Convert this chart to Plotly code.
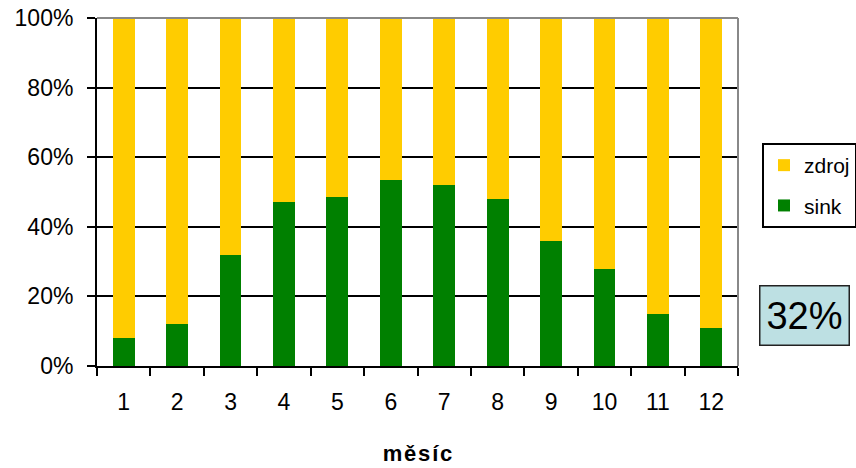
import plotly.graph_objects as go

months = [str(i) for i in range(1, 13)]
sink = [8, 12, 32, 47, 48.5, 53.5, 52, 48, 36, 28, 15, 11]
zdroj = [100 - s for s in sink]
y_ticks = [0, 20, 40, 60, 80, 100]
y_labels = [f"{v}%" for v in y_ticks]
avg_label = f"{int(sum(sink) / len(sink))}%"

FONT = "Liberation Sans, Arial, sans-serif"
FS = 23

W, H = 856, 468
L, R, T, B = 97, 118, 18, 102
PW = W - L - R
PH = H - T - B


def px(xw):
    return (xw - L) / PW


def py(yw):
    return (H - B - yw) / PH


fig = go.Figure()
fig.add_trace(go.Bar(x=months, y=sink, name="sink", marker_color="#008000",
                     marker_line_width=0, legendgroup="b", legendrank=2))
fig.add_trace(go.Bar(x=months, y=zdroj, name="zdroj", marker_color="#FFCC00",
                     marker_line_width=0, legendgroup="a", legendrank=1))

fig.update_layout(
    barmode="stack",
    bargap=0.59,
    width=W, height=H,
    margin=dict(l=L, r=R, t=T, b=B, autoexpand=False),
    plot_bgcolor="white", paper_bgcolor="white",
    font=dict(family=FONT, size=FS, color="black"),
    showlegend=True,
    legend=dict(x=px(762), y=py(143), xanchor="left", yanchor="top",
                bordercolor="black", borderwidth=2, bgcolor="white",
                traceorder="grouped", tracegroupgap=10,
                itemwidth=30,
                font=dict(size=21, family=FONT)),
)
fig.update_xaxes(
    type="category", showline=True, linecolor="black", linewidth=2,
    ticks="outside", tickson="boundaries", ticklen=8, tickwidth=2, tickcolor="black",
    showgrid=False, automargin=False, ticklabelstandoff=14,
    title=dict(text="<b>m\u200aě\u200as\u200aí\u200ac</b>", font=dict(size=22, family=FONT), standoff=32),
    tickfont=dict(size=FS),
)
fig.update_yaxes(
    range=[0, 100], tickvals=y_ticks, ticktext=y_labels,
    showline=True, linecolor="black", linewidth=2,
    ticks="outside", ticklen=8, tickwidth=2, tickcolor="black",
    showgrid=True, gridcolor="black", gridwidth=2, automargin=False,
    ticklabelstandoff=9, ticklabeloverflow="allow",
    tickfont=dict(size=FS), zeroline=False,
)
# plot-area border (top & right) in grey
fig.add_shape(type="line", xref="paper", yref="paper", x0=0, x1=1, y0=1, y1=1,
              line=dict(color="#888888", width=2), layer="above")
fig.add_shape(type="line", xref="paper", yref="paper", x0=1, x1=1, y0=0, y1=1,
              line=dict(color="#888888", width=2), layer="above")

fig.add_annotation(text=avg_label, xref="paper", yref="paper",
                   x=px(804), y=py(315),
                   xanchor="center", yanchor="middle", showarrow=False,
                   font=dict(size=38, family=FONT, color="black"),
                   bgcolor="#BDE0E3", bordercolor="#222222", borderwidth=1.5,
                   width=88, height=58, borderpad=0)

fig.write_html("out.html",
               config={"displayModeBar": False},
               post_script="document.body.style.margin='0';document.body.style.overflow='hidden';")
